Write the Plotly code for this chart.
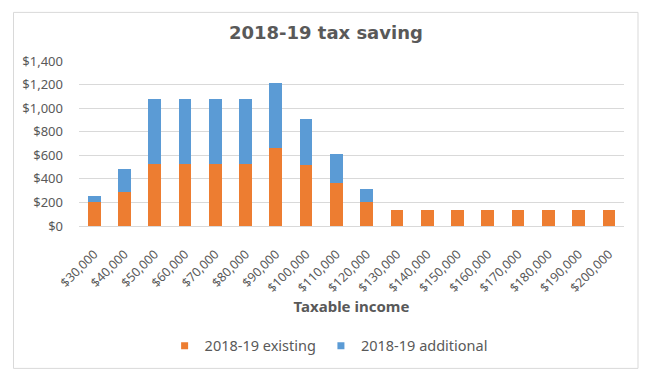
import plotly.graph_objects as go

categories = ["$30,000", "$40,000", "$50,000", "$60,000", "$70,000", "$80,000",
              "$90,000", "$100,000", "$110,000", "$120,000", "$130,000", "$140,000",
              "$150,000", "$160,000", "$170,000", "$180,000", "$190,000", "$200,000"]
existing = [200, 290, 530, 530, 530, 530, 665, 515, 365, 205, 135, 135, 135, 135, 135, 135, 135, 135]
additional = [55, 190, 550, 550, 550, 550, 545, 395, 245, 110, 0, 0, 0, 0, 0, 0, 0, 0]
y_ticks = [0, 200, 400, 600, 800, 1000, 1200, 1400]
y_tick_labels = ["$0", "$200", "$400", "$600", "$800", "$1,000", "$1,200", "$1,400"]
series_names = ["2018-19 existing", "2018-19 additional"]
series_colors = ["#ED7D31", "#5B9BD5"]

FONT = "Noto Sans"
GREY = "#595959"

fig = go.Figure()
for name, vals, col in zip(series_names, [existing, additional], series_colors):
    fig.add_trace(go.Bar(name=name, x=categories, y=vals, legendgroup=name, showlegend=False,
                         marker=dict(color=col, line=dict(width=0))))
for name, col in zip(series_names, series_colors):
    fig.add_trace(go.Scatter(name=name, x=[None], y=[None], mode="markers", legendgroup=name,
                             marker=dict(symbol="square", size=7, color=col)))

fig.update_layout(
    width=658, height=369,
    barmode="stack", bargap=0.58,
    paper_bgcolor="white", plot_bgcolor="white",
    margin=dict(l=71, r=42, t=53, b=151, autoexpand=False),
    font=dict(family=FONT, size=13, color=GREY),
    title=dict(text="2018-19 tax saving", x=0.453, xref="paper", xanchor="center",
               y=0.932, yref="container", yanchor="middle",
               font=dict(family="DejaVu Sans", size=18, color=GREY, weight="bold")),
    showlegend=True,
    legend=dict(orientation="h", x=0.458, xanchor="center", y=-0.726, yanchor="middle",
                font=dict(family=FONT, size=14.5, color=GREY), traceorder="normal",
                itemwidth=30),
    shapes=[dict(type="rect", xref="paper", yref="paper",
                 x0=-0.1202, x1=1.0257, y0=-0.863, y1=1.2946,
                 line=dict(color="#D9D9D9", width=1), fillcolor="rgba(0,0,0,0)", layer="below")],
)
fig.update_yaxes(range=[0, 1400], tickvals=y_ticks, ticktext=y_tick_labels,
                 showgrid=True, gridcolor="#D9D9D9", gridwidth=1, zeroline=False,
                 showline=False, ticks="", ticklabelstandoff=15,
                 tickfont=dict(family=FONT, size=13, color=GREY))
fig.update_xaxes(tickangle=-45, showline=True, linecolor="#D9D9D9", linewidth=1,
                 ticks="", ticklabelstandoff=15, tickfont=dict(family=FONT, size=12.5, color=GREY),
                 title=dict(text="Taxable income", standoff=3,
                            font=dict(family=FONT, size=15, color=GREY, weight="bold")))

fig.write_html("out.html")
